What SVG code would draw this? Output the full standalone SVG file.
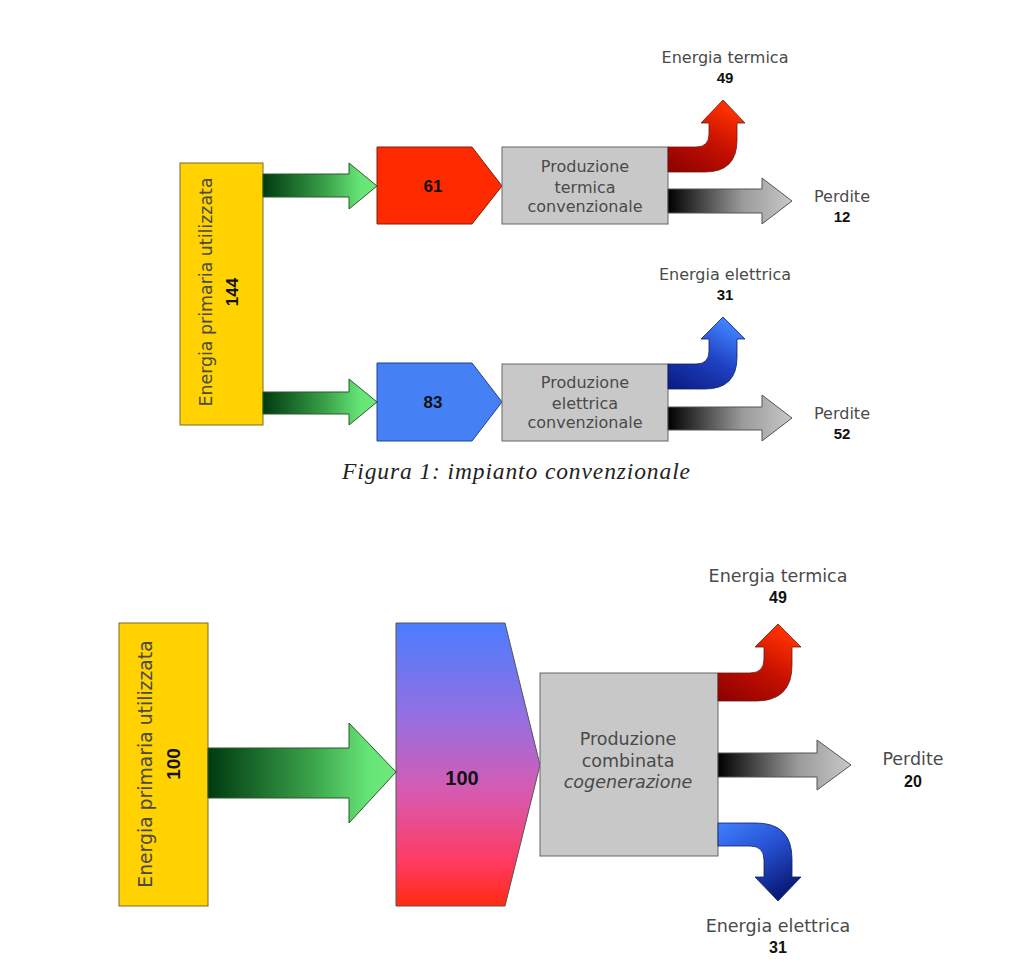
<svg xmlns="http://www.w3.org/2000/svg" width="1024" height="967" viewBox="0 0 1024 967">
<defs>
<linearGradient id="gGreen" x1="0" y1="0" x2="1" y2="0"><stop offset="0" stop-color="#003a10"/><stop offset="0.55" stop-color="#3aa24a"/><stop offset="0.85" stop-color="#66e476"/><stop offset="1" stop-color="#6eea7a"/></linearGradient>
<linearGradient id="gGray" x1="0" y1="0" x2="1" y2="0"><stop offset="0" stop-color="#000"/><stop offset="0.6" stop-color="#9a9a9a"/><stop offset="1" stop-color="#c8c8c8"/></linearGradient>
<linearGradient id="gRed" x1="0" y1="1" x2="0.6" y2="0"><stop offset="0" stop-color="#8a0000"/><stop offset="0.55" stop-color="#c51000"/><stop offset="1" stop-color="#ff3000"/></linearGradient>
<linearGradient id="gBlueUp" x1="0" y1="1" x2="0.6" y2="0"><stop offset="0" stop-color="#081a80"/><stop offset="0.55" stop-color="#1f40c0"/><stop offset="1" stop-color="#3f80ff"/></linearGradient>
<linearGradient id="gBlueDown" x1="0" y1="0" x2="0.6" y2="1"><stop offset="0" stop-color="#3f80ff"/><stop offset="0.5" stop-color="#2550d0"/><stop offset="1" stop-color="#0a1a78"/></linearGradient>
<linearGradient id="gMix" x1="0" y1="0" x2="0" y2="1"><stop offset="0" stop-color="#4a7dff"/><stop offset="0.35" stop-color="#9a6ee0"/><stop offset="0.6" stop-color="#d85ab0"/><stop offset="0.85" stop-color="#ff3a60"/><stop offset="1" stop-color="#ff2a10"/></linearGradient>
</defs>
<style>
.yel{fill:#ffd200;stroke:#7a6a30;stroke-width:1}
.box{fill:#c8c8c8;stroke:#666;stroke-width:1}
.ag{fill:url(#gGreen);stroke:#2a5a2a;stroke-width:1}
.ay{fill:url(#gGray);stroke:#555;stroke-width:1}
.ar{fill:url(#gRed);stroke:#6a1a10;stroke-width:0.8}
.abu{fill:url(#gBlueUp);stroke:#102060;stroke-width:0.8}
.abd{fill:url(#gBlueDown);stroke:#102060;stroke-width:0.8}
.lbl{font-family:"DejaVu Sans","Liberation Sans",sans-serif;fill:#4a4a4a;text-anchor:middle}
.num{font-family:"Liberation Sans",Arial,sans-serif;font-weight:bold;fill:#111;text-anchor:middle}
.cap{font-family:"Liberation Serif","Times New Roman",serif;font-style:italic;fill:#222;text-anchor:middle}
</style>
<rect width="1024" height="967" fill="#fff"/>

<!-- Figure 1 -->
<g id="primaria1">
<rect class="yel" x="180" y="163" width="83" height="262"/>
<g transform="translate(212,292) rotate(-90)"><text class="lbl" x="0" y="0" font-size="17.4">Energia primaria utilizzata</text><text class="num" x="0" y="26" font-size="17">144</text></g>
</g>
<g id="termica-in1">
<path d="M377,147 L472,147 L502,186 L472,224 L377,224 Z" fill="#ff2a00" stroke="#7a2010" stroke-width="1"/>
<text class="num" x="433" y="192" font-size="17">61</text>
</g>
<g id="elettrica-in1">
<path d="M377,363 L472,363 L502,402 L472,441 L377,441 Z" fill="#4580f5" stroke="#23408a" stroke-width="1"/>
<text class="num" x="433" y="408" font-size="17">83</text>
</g>
<g id="prod-termica">
<rect class="box" x="502" y="147" width="166" height="77"/>
<text class="lbl" font-size="16"><tspan x="585" y="172">Produzione</tspan><tspan x="585" y="193">termica</tspan><tspan x="585" y="212">convenzionale</tspan></text>
</g>
<g id="prod-elettrica">
<rect class="box" x="502" y="364" width="166" height="77"/>
<text class="lbl" font-size="16"><tspan x="585" y="388">Produzione</tspan><tspan x="585" y="409">elettrica</tspan><tspan x="585" y="428">convenzionale</tspan></text>
</g>
<g id="out-termica1">
<text class="lbl" x="725" y="63" font-size="16">Energia termica</text>
<text class="num" x="725" y="83" font-size="15">49</text>
</g>
<g id="out-perdite1a">
<text class="lbl" x="842" y="202" font-size="16">Perdite</text>
<text class="num" x="842" y="222" font-size="15">12</text>
</g>
<g id="out-elettrica1">
<text class="lbl" x="725" y="280" font-size="16">Energia elettrica</text>
<text class="num" x="725" y="300" font-size="15">31</text>
</g>
<g id="out-perdite1b">
<text class="lbl" x="842" y="419" font-size="16">Perdite</text>
<text class="num" x="842" y="439" font-size="15">52</text>
</g>
<text class="cap" x="516" y="479" font-size="23.5" textLength="348" lengthAdjust="spacing">Figura 1: impianto convenzionale</text>

<!-- Figure 2 -->
<g id="primaria2">
<rect class="yel" x="119" y="623" width="89" height="283"/>
<g transform="translate(152,764) rotate(-90)"><text class="lbl" x="0" y="0" font-size="18.8">Energia primaria utilizzata</text><text class="num" x="0" y="28" font-size="19">100</text></g>
</g>
<g id="mix2">
<path d="M396,623 L505,623 L540,765 L505,906 L396,906 Z" fill="url(#gMix)" stroke="#555" stroke-width="1"/>
<text class="num" x="462" y="785" font-size="20">100</text>
</g>
<g id="prod-combinata">
<rect class="box" x="540" y="673" width="178" height="183"/>
<text class="lbl" font-size="17.5"><tspan x="628" y="745">Produzione</tspan><tspan x="628" y="767">combinata</tspan><tspan x="628" y="788" font-style="italic">cogenerazione</tspan></text>
</g>
<g id="out-termica2">
<text class="lbl" x="778" y="582" font-size="17.5">Energia termica</text>
<text class="num" x="778" y="603" font-size="16">49</text>
</g>
<g id="out-perdite2">
<text class="lbl" x="913" y="765" font-size="17.5">Perdite</text>
<text class="num" x="913" y="787" font-size="16">20</text>
</g>
<g id="out-elettrica2">
<text class="lbl" x="778" y="932" font-size="17.5">Energia elettrica</text>
<text class="num" x="778" y="953" font-size="16">31</text>
</g>

<g id="connectors">
<path class="ag" d="M263,174 L349,174 L349,163 L377,186 L349,209 L349,197 L263,197 Z"/>
<path class="ag" d="M263,392 L349,392 L349,379 L377,402 L349,425 L349,414 L263,414 Z"/>
<path class="ar" d="M668,147 L696,147 Q709,147 709,134 L709,123 L701,123 L723,100 L745,123 L737,123 L737,140 Q737,172 705,172 L668,172 Z"/>
<path class="ay" d="M668,189 L762,189 L762,178 L792,201 L762,224 L762,213 L668,213 Z"/>
<path class="abu" d="M668,364 L696,364 Q709,364 709,351 L709,339 L701,339 L723,317 L745,339 L737,339 L737,357 Q737,389 705,389 L668,389 Z"/>
<path class="ay" d="M668,407 L762,407 L762,395 L792,418 L762,441 L762,430 L668,430 Z"/>
<path class="ag" d="M208,748 L349,748 L349,723 L396,772 L349,823 L349,798 L208,798 Z"/>
<path class="ar" d="M718,673 L750,673 Q764,673 764,659 L764,647 L755,647 L778,624 L801,647 L792,647 L792,665 Q792,701 756,701 L718,701 Z"/>
<path class="ay" d="M718,753 L817,753 L817,740 L851,765 L817,790 L817,777 L718,777 Z"/>
<path class="abd" d="M718,823 L756,823 Q792,823 792,859 L792,877 L801,877 L778,901 L755,877 L764,877 L764,860 Q764,846 750,846 L718,846 Z"/>
</g>
</svg>
